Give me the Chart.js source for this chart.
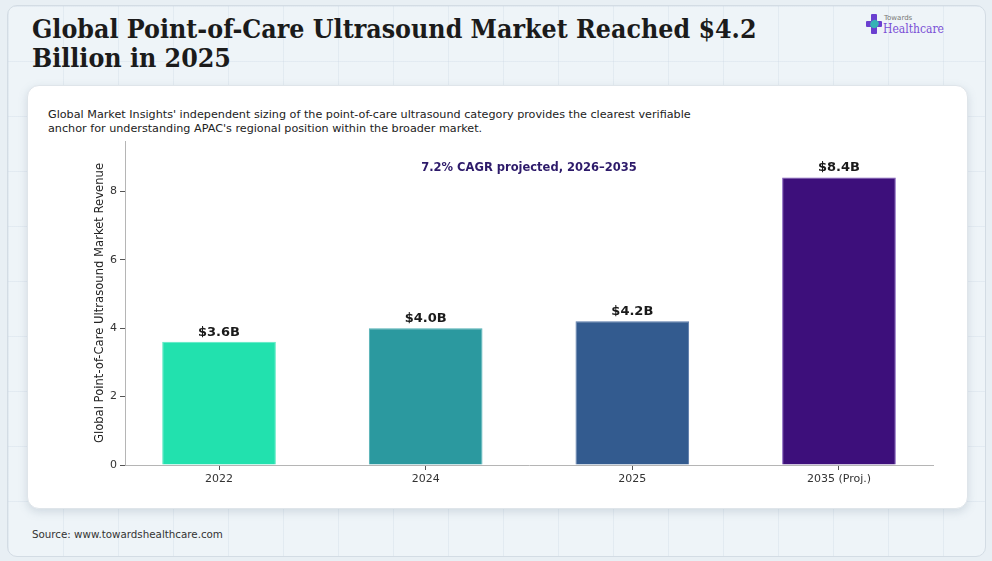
<!DOCTYPE html>
<html>
<head>
<meta charset="utf-8">
<script src="https://cdn.jsdelivr.net/npm/chart.js@4.4.1/dist/chart.umd.min.js"></script>
<style>
  html, body { margin: 0; padding: 0; }
  body { width: 992px; height: 561px; background: #e8eff4; position: relative; overflow: hidden; font-family: "DejaVu Sans", sans-serif; }
  #frame {
    position: absolute; left: 7px; top: 5px; width: 977px; height: 550px;
    border: 1px solid #d3dce4; border-radius: 10px;
    background-color: #eef4f8;
    background-image:
      linear-gradient(to right, rgba(200,214,226,0.3) 1px, transparent 1px),
      linear-gradient(to bottom, rgba(200,214,226,0.3) 1px, transparent 1px);
    background-size: 55px 55px;
  }
  #title {
    position: absolute; left: 32px; top: 14px; margin: 0;
    font-family: "DejaVu Serif", serif; font-stretch: condensed; font-weight: bold;
    font-size: 26.5px; line-height: 29px; color: #1b1b1b;
  }
  #logo { position: absolute; left: 866px; top: 14px; width: 90px; height: 24px; }
  #logo .v { position: absolute; left: 5px; top: 0; width: 6px; height: 20px; background: #6a3fd0; border-radius: 1px; }
  #logo .h { position: absolute; left: 0; top: 7px; width: 16px; height: 6px; background: #6a3fd0; border-radius: 1px; }
  #logo .s { position: absolute; left: 4px; top: 6px; width: 9px; height: 8px; background: #2bc8b0; border-radius: 50%; transform: rotate(-30deg); opacity: 0.85; }
  #logo .t1 { position: absolute; left: 18px; top: 0; font-size: 7px; color: #777; font-family: "DejaVu Sans", sans-serif; }
  #logo .t2 { position: absolute; left: 17px; top: 8px; font-size: 12px; color: #7a4fd6; font-family: "DejaVu Serif", serif; font-stretch: condensed; }
  #card {
    position: absolute; left: 27px; top: 85px; width: 939px; height: 422px;
    background: #ffffff; border-radius: 12px; border: 1px solid #dfe5ea;
    box-shadow: 0 3px 8px rgba(120,140,160,0.25);
  }
  #sub {
    position: absolute; left: 20px; top: 22px; margin: 0;
    font-size: 11.2px; line-height: 13.5px; color: #222;
  }
  #chartbox { position: absolute; left: 0; top: 0; width: 939px; height: 422px; }
  #source { position: absolute; left: 32px; top: 528px; font-size: 10.3px; color: #333; }
</style>
</head>
<body>
<div id="frame"></div>
<h1 id="title">Global Point-of-Care Ultrasound Market Reached $4.2<br>Billion in 2025</h1>
<div id="logo"><div class="v"></div><div class="h"></div><div class="s"></div><span class="t1">Towards</span><span class="t2">Healthcare</span></div>
<div id="card">
  <p id="sub">Global Market Insights' independent sizing of the point-of-care ultrasound category provides the clearest verifiable<br>anchor for understanding APAC's regional position within the broader market.</p>
  <div id="chartbox"><canvas id="myChart"></canvas></div>
</div>
<div id="source">Source: www.towardshealthcare.com</div>

<script>
var years = ["2022", "2024", "2025", "2035 (Proj.)"];
var revenue = [3.6, 4.0, 4.2, 8.4];
var valueLabels = ["$3.6B", "$4.0B", "$4.2B", "$8.4B"];
var barColors = ["#22e1ae", "#2b999f", "#335b8f", "#3d0f7b"];
var edgeColors = ["#5ae9c3", "#4fb0b4", "#5677a8", "#7a52b8"];
var yTicks = [0, 2, 4, 6, 8];
var cagrNote = "7.2% CAGR projected, 2026\u20132035";

// bar value labels + CAGR note
var labelPlugin = {
  id: 'barLabels',
  afterDatasetsDraw: function(chart) {
    var ctx = chart.ctx;
    var meta = chart.getDatasetMeta(0);
    ctx.save();
    ctx.font = 'bold 13px "DejaVu Sans"';
    ctx.fillStyle = '#1a1a1a';
    ctx.textAlign = 'center';
    ctx.textBaseline = 'bottom';
    for (var i = 0; i < meta.data.length; i++) {
      var bar = meta.data[i];
      ctx.fillText(valueLabels[i], bar.x, bar.y - 3);
    }
    var area = chart.chartArea;
    ctx.font = 'bold 11.5px "DejaVu Sans"';
    ctx.fillStyle = '#2d1a6a';
    ctx.textBaseline = 'middle';
    ctx.fillText(cagrNote, (area.left + area.right) / 2, chart.scales.y.getPixelForValue(8.69));
    ctx.restore();
  }
};

var ctx = document.getElementById('myChart');
var barChart = new Chart(ctx, {
  type: 'bar',
  data: {
    datasets: [{
      data: revenue.map(function(v, i) { return { x: i, y: v }; }),
      backgroundColor: barColors,
      borderColor: edgeColors,
      borderWidth: 1,
      borderSkipped: 'bottom',
      categoryPercentage: 1,
      barPercentage: 0.55
    }]
  },
  options: {
    responsive: true,
    maintainAspectRatio: false,
    animation: false,
    layout: { padding: { left: 62, right: 34, top: 55, bottom: 18 } },
    plugins: { legend: { display: false }, tooltip: { enabled: false } },
    scales: {
      x: {
        type: 'linear',
        offset: false,
        min: -0.455,
        max: 3.455,
        afterBuildTicks: function(scale) {
          scale.ticks = years.map(function(y, i) { return { value: i }; });
        },
        afterFit: function(scale) { scale.height = 25; },
        ticks: {
          callback: function(v) { return years[v]; },
          color: '#333',
          font: { family: 'DejaVu Sans', size: 11 },
          padding: 3,
          maxRotation: 0
        },
        grid: { display: true, offset: false, drawOnChartArea: false, tickLength: 5, color: '#555', lineWidth: 1 },
        border: { color: '#b5b5b5', width: 1 }
      },
      y: {
        min: 0,
        max: 9.47,
        afterBuildTicks: function(scale) {
          scale.ticks = yTicks.map(function(v) { return { value: v }; });
        },
        afterFit: function(scale) { scale.width = 35; },
        ticks: {
          color: '#333',
          font: { family: 'DejaVu Sans', size: 11 },
          padding: 3
        },
        grid: { display: true, drawOnChartArea: false, tickLength: 5, color: '#555', lineWidth: 1 },
        border: { color: '#b5b5b5', width: 1 },
        title: {
          display: true,
          text: 'Global Point-of-Care Ultrasound Market Revenue',
          color: '#222',
          font: { family: 'DejaVu Sans', size: 11.6 },
          padding: { top: 3, bottom: 4 }
        }
      }
    }
  },
  plugins: [labelPlugin]
});
</script>
</body>
</html>
